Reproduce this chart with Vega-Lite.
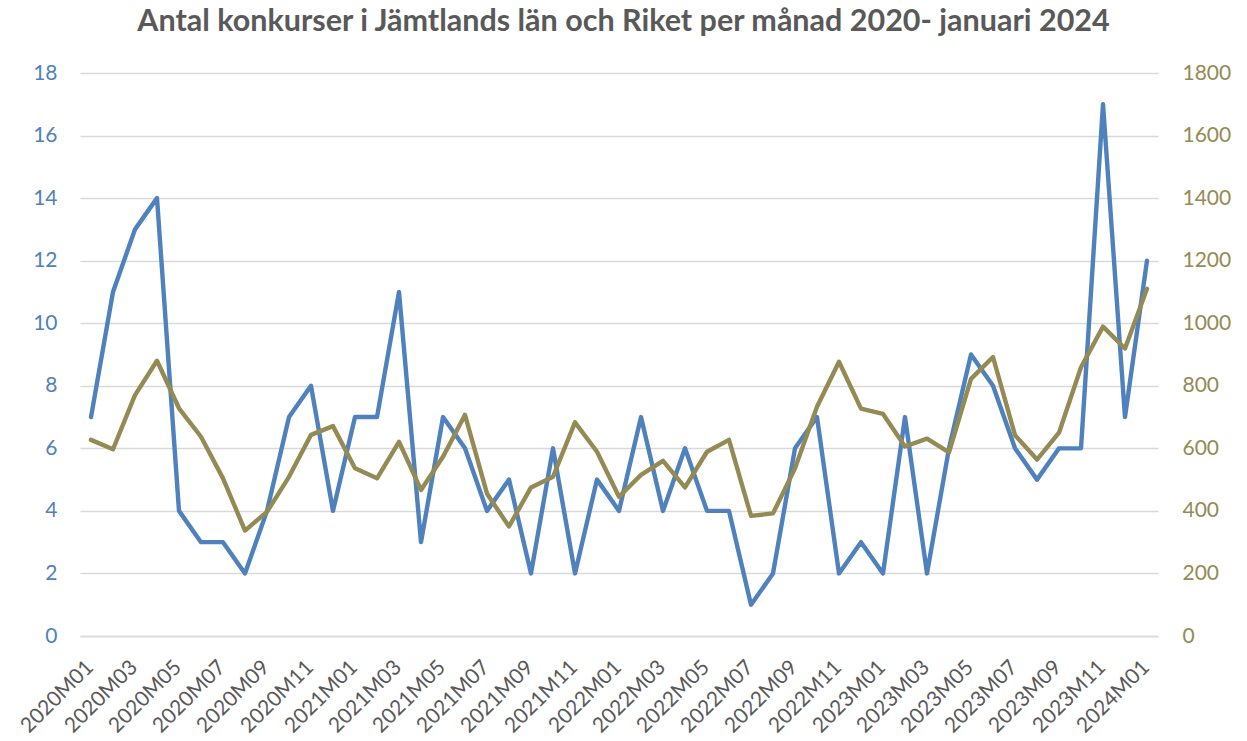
{
  "$schema": "https://vega.github.io/schema/vega-lite/v6.json",
  "width": 1078,
  "height": 563,
  "autosize": {"type": "pad"},
  "padding": {"left": 0, "top": 6, "right": 0, "bottom": 0},
  "background": "white",
  "title": {
    "text": "Antal konkurser i Jämtlands län och Riket per månad 2020- januari 2024",
    "font": "Lato",
    "fontSize": 30.5,
    "fontWeight": "bold",
    "color": "#595959",
    "frame": "bounds",
    "anchor": "middle",
    "offset": 25
  },
  "config": {
    "view": {"stroke": null},
    "axis": {"labelFont": "Lato", "domain": false, "ticks": false, "tickSize": 0, "titleFontSize": 0}
  },
  "data": {
    "values": [
      {"month": "2020M01", "jamtland": 7, "riket": 627},
      {"month": "2020M02", "jamtland": 11, "riket": 597},
      {"month": "2020M03", "jamtland": 13, "riket": 770},
      {"month": "2020M04", "jamtland": 14, "riket": 880},
      {"month": "2020M05", "jamtland": 4, "riket": 728},
      {"month": "2020M06", "jamtland": 3, "riket": 637},
      {"month": "2020M07", "jamtland": 3, "riket": 504},
      {"month": "2020M08", "jamtland": 2, "riket": 337},
      {"month": "2020M09", "jamtland": 4, "riket": 397},
      {"month": "2020M10", "jamtland": 7, "riket": 509},
      {"month": "2020M11", "jamtland": 8, "riket": 643},
      {"month": "2020M12", "jamtland": 4, "riket": 671},
      {"month": "2021M01", "jamtland": 7, "riket": 536},
      {"month": "2021M02", "jamtland": 7, "riket": 504},
      {"month": "2021M03", "jamtland": 11, "riket": 621},
      {"month": "2021M04", "jamtland": 3, "riket": 467},
      {"month": "2021M05", "jamtland": 7, "riket": 573},
      {"month": "2021M06", "jamtland": 6, "riket": 707},
      {"month": "2021M07", "jamtland": 4, "riket": 455},
      {"month": "2021M08", "jamtland": 5, "riket": 350},
      {"month": "2021M09", "jamtland": 2, "riket": 475},
      {"month": "2021M10", "jamtland": 6, "riket": 509},
      {"month": "2021M11", "jamtland": 2, "riket": 683},
      {"month": "2021M12", "jamtland": 5, "riket": 589},
      {"month": "2022M01", "jamtland": 4, "riket": 445},
      {"month": "2022M02", "jamtland": 7, "riket": 515},
      {"month": "2022M03", "jamtland": 4, "riket": 560},
      {"month": "2022M04", "jamtland": 6, "riket": 475},
      {"month": "2022M05", "jamtland": 4, "riket": 589},
      {"month": "2022M06", "jamtland": 4, "riket": 627},
      {"month": "2022M07", "jamtland": 1, "riket": 384},
      {"month": "2022M08", "jamtland": 2, "riket": 392},
      {"month": "2022M09", "jamtland": 6, "riket": 536},
      {"month": "2022M10", "jamtland": 7, "riket": 733},
      {"month": "2022M11", "jamtland": 2, "riket": 877},
      {"month": "2022M12", "jamtland": 3, "riket": 727},
      {"month": "2023M01", "jamtland": 2, "riket": 710},
      {"month": "2023M02", "jamtland": 7, "riket": 606},
      {"month": "2023M03", "jamtland": 2, "riket": 631},
      {"month": "2023M04", "jamtland": 6, "riket": 587},
      {"month": "2023M05", "jamtland": 9, "riket": 822},
      {"month": "2023M06", "jamtland": 8, "riket": 892},
      {"month": "2023M07", "jamtland": 6, "riket": 642},
      {"month": "2023M08", "jamtland": 5, "riket": 564},
      {"month": "2023M09", "jamtland": 6, "riket": 650},
      {"month": "2023M10", "jamtland": 6, "riket": 859},
      {"month": "2023M11", "jamtland": 17, "riket": 989},
      {"month": "2023M12", "jamtland": 7, "riket": 919},
      {"month": "2024M01", "jamtland": 12, "riket": 1110}
    ]
  },
  "encoding": {
    "x": {
      "field": "month",
      "type": "ordinal",
      "sort": null,
      "title": null,
      "scale": {"type": "point", "padding": 0.5},
      "axis": {
        "values": ["2020M01","2020M03","2020M05","2020M07","2020M09","2020M11","2021M01","2021M03","2021M05","2021M07","2021M09","2021M11","2022M01","2022M03","2022M05","2022M07","2022M09","2022M11","2023M01","2023M03","2023M05","2023M07","2023M09","2023M11","2024M01"],
        "labelAngle": -45,
        "labelFontSize": 21,
        "labelColor": "#595959",
        "labelPadding": 20,
        "labelOffset": -9,
        "domain": true,
        "domainColor": "#D9D9D9",
        "domainWidth": 1.3,
        "grid": false
      }
    }
  },
  "layer": [
    {
      "mark": {"type": "line", "color": "#4F81BD", "strokeWidth": 4.4, "strokeJoin": "round", "strokeCap": "round"},
      "encoding": {
        "y": {
          "field": "jamtland",
          "type": "quantitative",
          "title": null,
          "scale": {"domain": [0, 18], "nice": false},
          "axis": {
            "orient": "left",
            "values": [0, 2, 4, 6, 8, 10, 12, 14, 16, 18],
            "grid": true,
            "gridColor": "#D9D9D9",
            "gridWidth": 1.3,
            "labelFontSize": 21,
            "labelColor": "#4F81BD",
            "labelPadding": 23,
            "minExtent": 80,
            "maxExtent": 80
          }
        }
      }
    },
    {
      "mark": {"type": "line", "color": "#948A54", "strokeWidth": 4.4, "strokeJoin": "round", "strokeCap": "round"},
      "encoding": {
        "y": {
          "field": "riket",
          "type": "quantitative",
          "title": null,
          "scale": {"domain": [0, 1800], "nice": false},
          "axis": {
            "orient": "right",
            "values": [0, 200, 400, 600, 800, 1000, 1200, 1400, 1600, 1800],
            "format": "d",
            "grid": false,
            "labelFontSize": 21,
            "labelColor": "#948A54",
            "labelPadding": 24,
            "minExtent": 89,
            "maxExtent": 89
          }
        }
      }
    }
  ],
  "resolve": {"scale": {"y": "independent"}}
}
